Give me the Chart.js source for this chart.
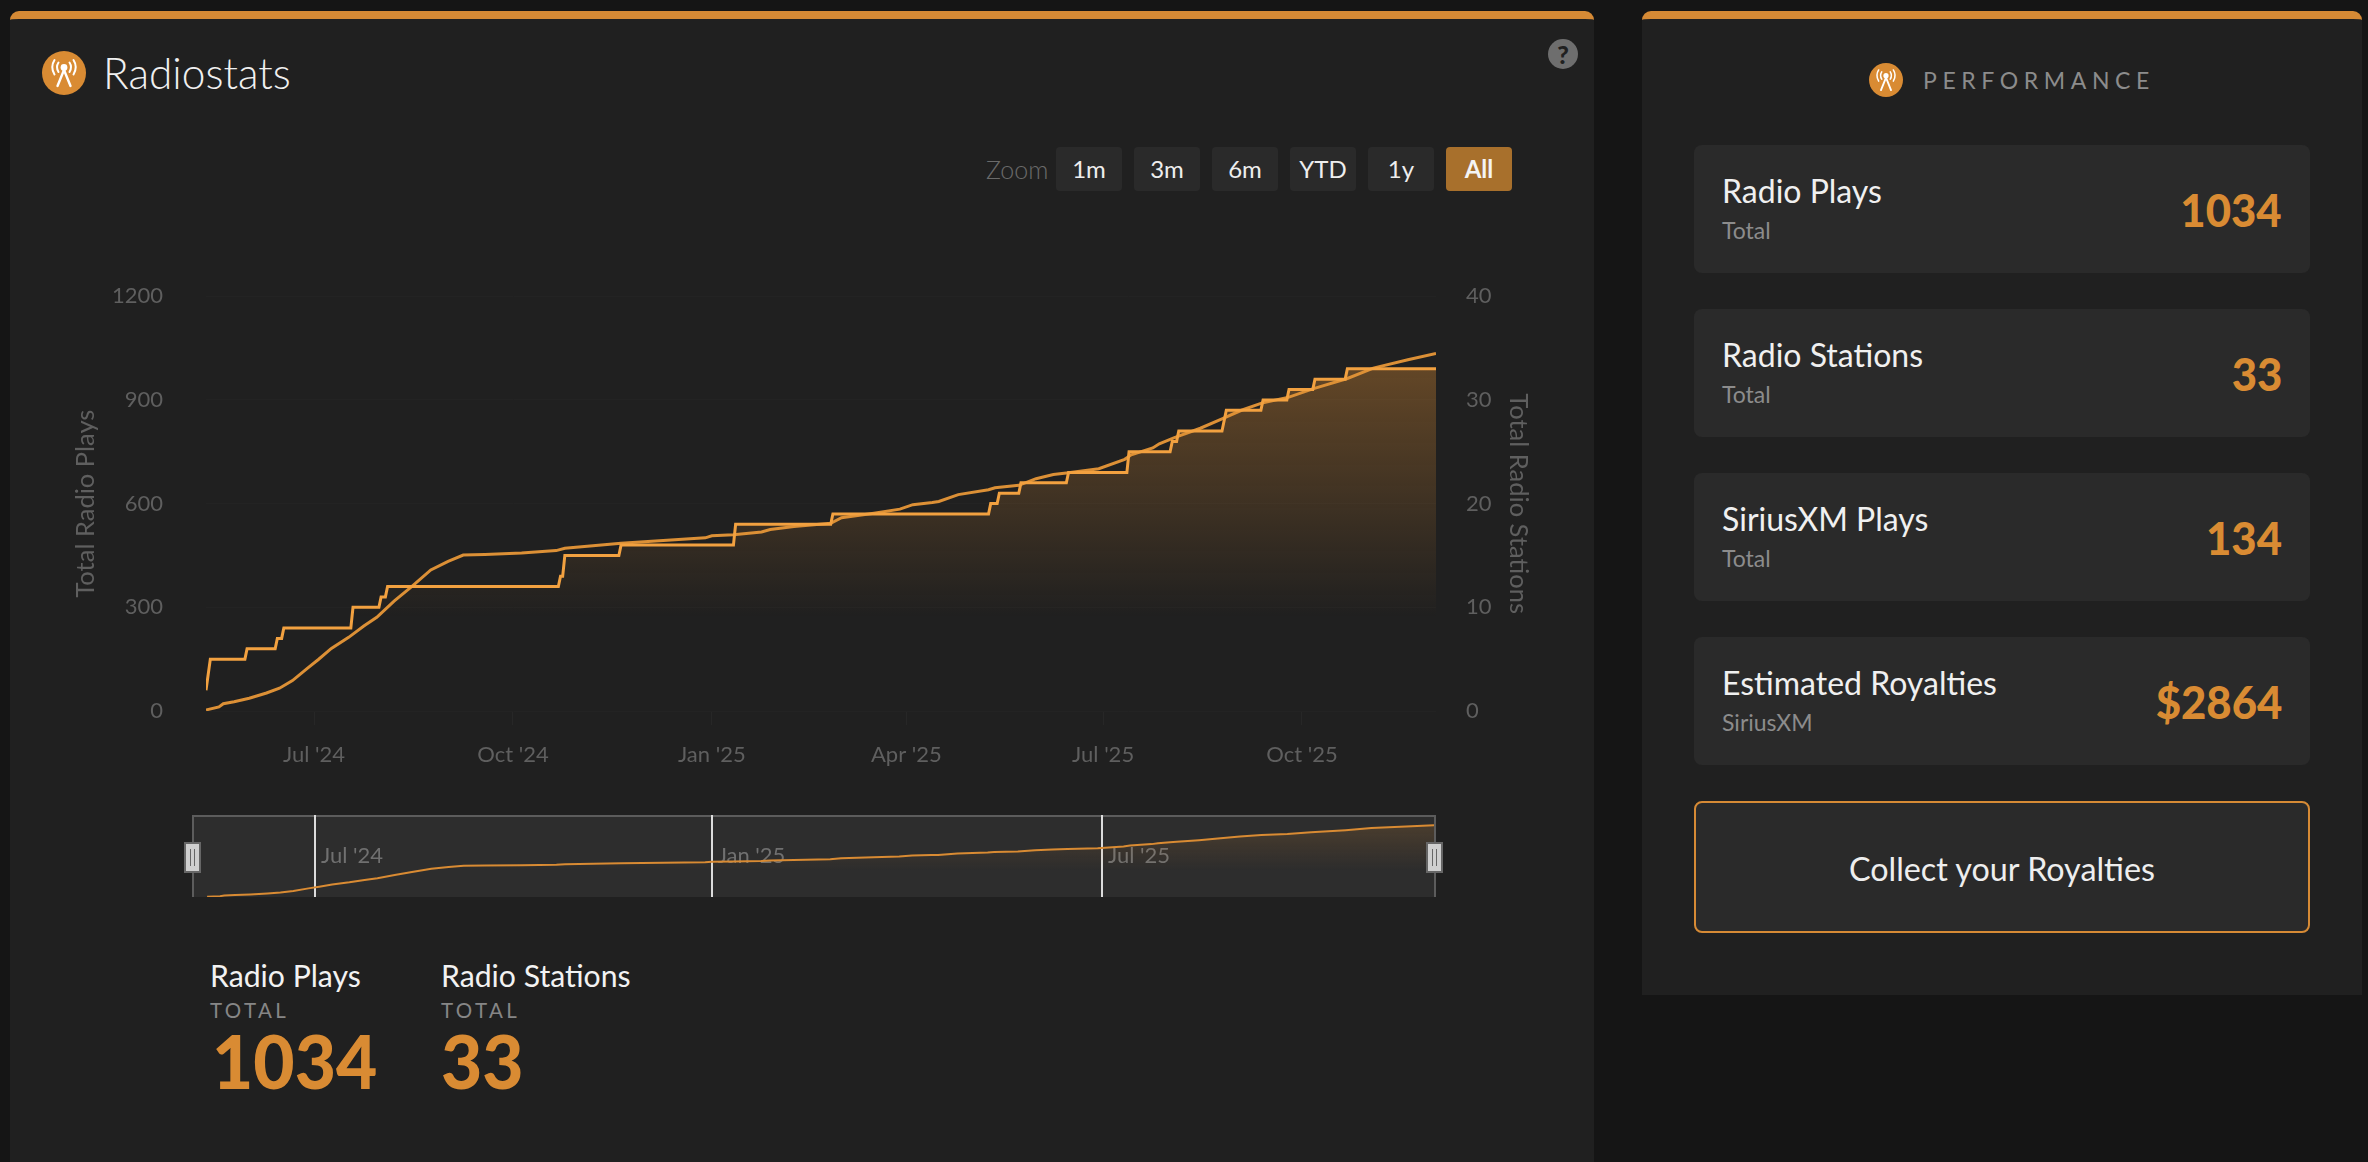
<!DOCTYPE html>
<html>
<head>
<meta charset="utf-8">
<title>Radiostats</title>
<script src="https://cdn.jsdelivr.net/npm/chart.js@4"></script>
<style>
html, body { margin: 0; padding: 0; width: 2368px; height: 1162px; overflow: hidden; background: #151515; font-family: Lato, sans-serif; color: #f2f2f2; }
.abs, .panel, .card, .btn, canvas { position: absolute; }
.abs { white-space: nowrap; line-height: 1; }
.panel { background: #202020; border-top: 8px solid #d68a35; border-radius: 9px 9px 0 0; box-sizing: border-box; }
.card { left: 1694px; width: 616px; height: 128px; background: #2a2a2a; border-radius: 8px; }
.card-title { left: 1722px; font-size: 32px; color: #f0f0f0; }
.card-sub { left: 1722px; font-size: 23px; color: #8c8c8c; }
.card-val { right: 86px; font-size: 46px; font-weight: 900; color: #d98b33; transform: scaleX(0.95); transform-origin: right center; }
.btn { top: 147px; width: 66px; height: 44px; background: #2a2a2a; border-radius: 4px; font-size: 24px; line-height: 44px; text-align: center; color: #eee; }
.btn.on { background: #a8702c; font-weight: 700; color: #f4f4f4; }
.stat-title { font-size: 30.2px; color: #f2f2f2; }
.stat-sub { font-size: 20.5px; letter-spacing: 3.4px; color: #868686; }
.stat-val { font-size: 75px; font-weight: 900; color: #d98b33; transform: scaleX(0.95); transform-origin: left center; }
#nav { position: absolute; left: 192px; top: 815px; width: 1240px; height: 80px; background: #2d2d2d; border: solid #5c5c5c; border-width: 2px 2px 0 2px; }
.handle { position: absolute; top: 842px; width: 13px; height: 27px; background: #cfcfcf; border: 2px solid #666; }
.handle::after { content: ""; position: absolute; left: 4px; top: 5px; width: 3px; height: 17px; border: solid #666; border-width: 0 1px; }
</style>
</head>
<body>
<svg width="0" height="0" style="position:absolute">
  <symbol id="radio" viewBox="0 0 44 44">
    <circle cx="22" cy="22" r="22" fill="#d98b33"/>
    <g fill="none" stroke="#fff" stroke-width="2" stroke-linecap="round">
      <path d="M22 19 L15.5 35 M22 19 L28.5 35" stroke-width="2.4"/>
      <path d="M16.5 11.5 Q13.5 16 16.5 21 M27.5 11.5 Q30.5 16 27.5 21"/>
      <path d="M12.5 9 Q8 16 12.5 23.5 M31.5 9 Q36 16 31.5 23.5"/>
    </g>
    <circle cx="22" cy="16.5" r="3.4" fill="#fff"/>
  </symbol>
</svg>

<div class="panel" style="left:10px;top:11px;width:1584px;height:1151px"></div>
<div class="panel" style="left:1642px;top:11px;width:720px;height:984px"></div>

<svg class="abs" style="left:42px;top:51px" width="44" height="44"><use href="#radio"/></svg>
<div class="abs" style="left:103px;top:52px;font-size:42.4px;font-weight:300;color:#f0f0f0">Radiostats</div>
<div class="abs" style="left:1548px;top:39px;width:30px;height:30px;border-radius:50%;background:#6e6e6e;color:#202020;font-size:25px;font-weight:900;line-height:30px;text-align:center">?</div>

<div class="abs" style="left:986px;top:157px;font-size:25px;font-weight:300;color:#6a6a6a">Zoom</div>
<div class="btn" style="left:1056px">1m</div>
<div class="btn" style="left:1134px">3m</div>
<div class="btn" style="left:1212px">6m</div>
<div class="btn" style="left:1290px">YTD</div>
<div class="btn" style="left:1368px">1y</div>
<div class="btn on" style="left:1446px">All</div>

<canvas id="mainChart" width="1480" height="540" style="left:60px;top:240px;width:1480px;height:540px"></canvas>

<div id="nav"><canvas id="navChart" width="1242" height="82" style="left:-2px;top:-2px;width:1242px;height:82px"></canvas></div>
<div class="handle" style="left:184px"></div>
<div class="handle" style="left:1426px"></div>

<div class="abs stat-title" style="left:210px;top:960px">Radio Plays</div>
<div class="abs stat-sub" style="left:210px;top:1000px">TOTAL</div>
<div class="abs stat-val" style="left:212px;top:1023px">1034</div>
<div class="abs stat-title" style="left:441px;top:960px">Radio Stations</div>
<div class="abs stat-sub" style="left:441px;top:1000px">TOTAL</div>
<div class="abs stat-val" style="left:441px;top:1023px">33</div>

<svg class="abs" style="left:1869px;top:63px" width="34" height="34"><use href="#radio"/></svg>
<div class="abs" style="left:1923px;top:69px;font-size:23px;letter-spacing:5.6px;color:#8c8c8c">PERFORMANCE</div>

<div class="card" style="top:145px"></div>
<div class="abs card-title" style="top:175px">Radio Plays</div>
<div class="abs card-sub" style="top:219px">Total</div>
<div class="abs card-val" style="top:187px">1034</div>

<div class="card" style="top:309px"></div>
<div class="abs card-title" style="top:339px">Radio Stations</div>
<div class="abs card-sub" style="top:383px">Total</div>
<div class="abs card-val" style="top:351px">33</div>

<div class="card" style="top:473px"></div>
<div class="abs card-title" style="top:503px">SiriusXM Plays</div>
<div class="abs card-sub" style="top:547px">Total</div>
<div class="abs card-val" style="top:515px">134</div>

<div class="card" style="top:637px"></div>
<div class="abs card-title" style="top:667px">Estimated Royalties</div>
<div class="abs card-sub" style="top:711px">SiriusXM</div>
<div class="abs card-val" style="top:679px">$2864</div>

<div class="card" style="top:801px;height:132px;border:2px solid #d68a35;box-sizing:border-box"></div>
<div class="abs" style="left:1694px;width:616px;top:853px;font-size:32.3px;text-align:center;color:#eee">Collect your Royalties</div>

<script>
// cumulative plays (left axis) and stations (right axis)
const playDates = [
    "2024-05-12", "2024-05-18", "2024-05-20", "2024-05-25", "2024-06-01", "2024-06-09",
    "2024-06-15", "2024-06-21", "2024-06-28", "2024-07-03", "2024-07-09", "2024-07-17",
    "2024-07-24", "2024-07-30", "2024-08-07", "2024-08-15", "2024-08-24", "2024-09-01",
    "2024-09-08", "2024-09-18", "2024-10-05", "2024-10-21", "2024-10-25", "2024-11-20",
    "2024-12-29", "2025-01-01", "2025-01-11", "2025-01-24", "2025-01-28", "2025-02-08",
    "2025-02-25", "2025-03-02", "2025-03-17", "2025-03-29", "2025-04-04", "2025-04-13",
    "2025-04-16", "2025-04-25", "2025-05-09", "2025-05-12", "2025-05-23", "2025-05-31",
    "2025-06-08", "2025-06-15", "2025-06-29", "2025-07-11", "2025-07-14", "2025-07-24",
    "2025-07-27", "2025-08-03", "2025-08-15", "2025-08-25", "2025-09-03", "2025-09-13",
    "2025-09-25", "2025-10-06", "2025-10-22", "2025-11-03", "2025-11-19", "2025-12-02",
];
const playValues = [
    3, 12, 21, 27, 37, 52,
    66, 88, 124, 149, 181, 213,
    246, 271, 318, 359, 408, 433,
    451, 453, 457, 464, 471, 485,
    501, 507, 510, 518, 525, 534,
    543, 559, 572, 584, 597, 603,
    606, 626, 640, 646, 653, 672,
    684, 689, 701, 728, 741, 761,
    773, 791, 818, 845, 870, 892,
    908, 932, 962, 992, 1016, 1034,
];
const stationDates = [
    "2024-05-12", "2024-05-14", "2024-05-30", "2024-05-31", "2024-06-13", "2024-06-14", "2024-06-16",
    "2024-06-17", "2024-07-18", "2024-07-19", "2024-07-31", "2024-08-01", "2024-08-03", "2024-08-04",
    "2024-10-22", "2024-10-23", "2024-10-24", "2024-10-25", "2024-11-19", "2024-11-20", "2025-01-11",
    "2025-01-12", "2025-02-25", "2025-02-26", "2025-05-09", "2025-05-10", "2025-05-13", "2025-05-14",
    "2025-05-23", "2025-05-24", "2025-06-14", "2025-06-15", "2025-07-12", "2025-07-13", "2025-08-01",
    "2025-08-02", "2025-08-04", "2025-08-05", "2025-08-25", "2025-08-27", "2025-09-12", "2025-09-13",
    "2025-09-24", "2025-09-25", "2025-10-06", "2025-10-07", "2025-10-21", "2025-10-22", "2025-12-02",
];
const stationValues = [
    2, 5, 5, 6, 6, 7, 7,
    8, 8, 10, 10, 11, 11, 12,
    12, 13, 13, 15, 15, 16, 16,
    18, 18, 19, 19, 20, 20, 21,
    21, 22, 22, 23, 23, 25, 25,
    26, 26, 27, 27, 29, 29, 30,
    30, 31, 31, 32, 32, 33, 33,
];
const tickDates = ["2024-07-01", "2024-10-01", "2025-01-01", "2025-04-01", "2025-07-01", "2025-10-01"];
const tickLabels = ["Jul '24", "Oct '24", "Jan '25", "Apr '25", "Jul '25", "Oct '25"];
const navTickDates = ["2024-07-01", "2025-01-01", "2025-07-01"];
const navTickLabels = ["Jul '24", "Jan '25", "Jul '25"];

const PLAY_COLOR = "#dc9036";
const STATION_COLOR = "#f2a140";
const AXIS_TEXT = "#5f5f5f";

function toTime(iso) {
    return Date.parse(iso + "T00:00:00Z");
}

function zipPoints(dates, values) {
    return dates.map((d, i) => ({ x: toTime(d), y: values[i] }));
}

function fixedTicks(dates) {
    return (scale) => {
        scale.ticks = dates.map((d) => ({ value: toTime(d) }));
    };
}

function fadeFill(fromAlpha, yAxis, topValue, bottomValue) {
    return (context) => {
        const chart = context.chart;
        if (!chart.chartArea) {
            return "transparent";
        }
        const scale = chart.scales[yAxis];
        const g = chart.ctx.createLinearGradient(
            0, scale.getPixelForValue(topValue), 0, scale.getPixelForValue(bottomValue)
        );
        g.addColorStop(0, "rgba(217,139,51," + fromAlpha + ")");
        g.addColorStop(1, "rgba(217,139,51,0)");
        return g;
    };
}

Chart.defaults.font.family = "Lato, sans-serif";
Chart.defaults.font.size = 22;
Chart.defaults.animation = false;

new Chart(document.getElementById("mainChart"), {
    type: "line",
    data: {
        datasets: [
            {
                label: "Radio Stations",
                data: zipPoints(stationDates, stationValues),
                yAxisID: "y1",
                borderColor: STATION_COLOR,
                borderWidth: 3,
                pointRadius: 0,
                tension: 0,
                fill: "origin",
                backgroundColor: fadeFill(0.36, "y1", 33, 9),
            },
            {
                label: "Radio Plays",
                data: zipPoints(playDates, playValues),
                yAxisID: "y",
                borderColor: PLAY_COLOR,
                borderWidth: 3,
                pointRadius: 0,
                tension: 0,
                fill: false,
            },
        ],
    },
    options: {
        responsive: false,
        layout: { padding: { top: 13.5 } },
        plugins: {
            legend: { display: false },
            tooltip: { enabled: false },
            filler: { drawTime: "beforeDatasetsDraw" },
        },
        scales: {
            x: {
                type: "linear",
                min: toTime("2024-05-12"),
                max: toTime("2025-12-02"),
                afterBuildTicks: fixedTicks(tickDates),
                afterFit: (scale) => { scale.height = 69; },
                border: { display: false },
                grid: { drawOnChartArea: false, color: "#272727", tickLength: 14 },
                ticks: {
                    color: AXIS_TEXT,
                    padding: 17,
                    autoSkip: false,
                    maxRotation: 0,
                    callback: (value, index) => tickLabels[index],
                },
            },
            y: {
                position: "left",
                min: 0,
                max: 1200,
                afterFit: (scale) => { scale.width = 146; },
                border: { display: false },
                grid: { color: "#232323", drawTicks: false },
                ticks: { color: AXIS_TEXT, stepSize: 300, padding: 43, callback: (value) => String(value) },
                title: { display: true, text: "Total Radio Plays", color: AXIS_TEXT, font: { size: 25.5 }, padding: { top: 10, bottom: 0 } },
            },
            y1: {
                position: "right",
                min: 0,
                max: 40,
                afterFit: (scale) => { scale.width = 104; },
                border: { display: false },
                grid: { drawOnChartArea: false, drawTicks: false },
                ticks: { color: AXIS_TEXT, stepSize: 10, padding: 30 },
                title: { display: true, text: "Total Radio Stations", color: AXIS_TEXT, font: { size: 25.5 }, padding: { top: 6, bottom: 10 } },
            },
        },
    },
});

// range selector strip under the main chart
new Chart(document.getElementById("navChart"), {
    type: "line",
    data: {
        datasets: [
            {
                label: "Radio Plays",
                data: zipPoints(playDates, playValues),
                borderColor: "#d98b33",
                borderWidth: 2,
                pointRadius: 0,
                tension: 0,
                fill: "origin",
                backgroundColor: fadeFill(0.17, "y", 1034, 380),
            },
        ],
    },
    options: {
        responsive: false,
        plugins: {
            legend: { display: false },
            tooltip: { enabled: false },
        },
        scales: {
            x: {
                type: "linear",
                min: toTime("2024-05-05"),
                max: toTime("2025-12-02"),
                afterBuildTicks: fixedTicks(navTickDates),
                afterFit: (scale) => { scale.height = 0; },
                border: { display: false },
                grid: { color: "#dcdcdc", lineWidth: 2, drawTicks: false },
                ticks: {
                    color: "#707070",
                    align: "start",
                    mirror: true,
                    padding: 28,
                    labelOffset: 6,
                    autoSkip: false,
                    maxRotation: 0,
                    callback: (value, index) => navTickLabels[index],
                },
            },
            y: { display: false, min: 0, max: 1180 },
        },
    },
});
</script>
</body>
</html>
